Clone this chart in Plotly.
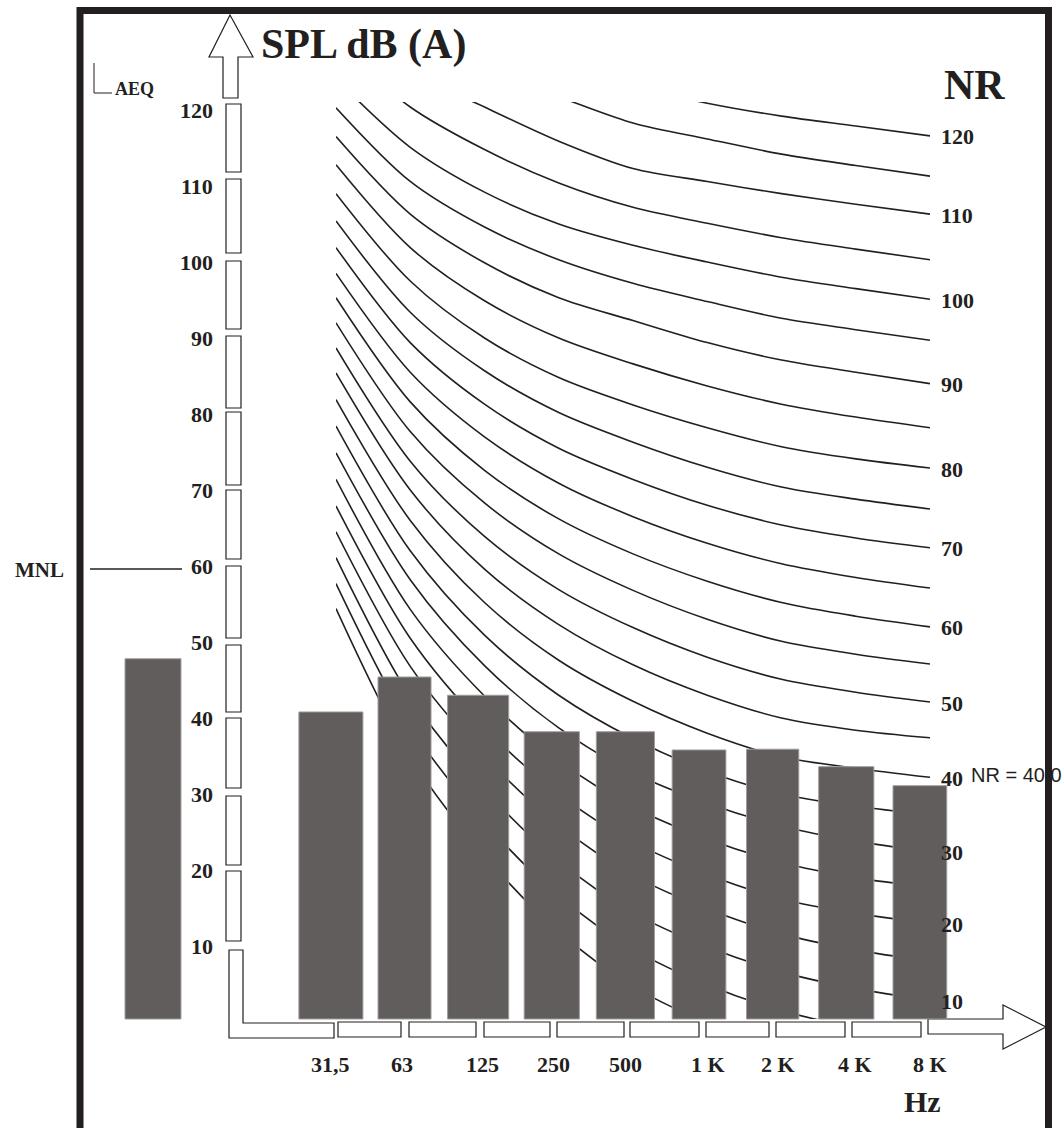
import plotly.graph_objects as go

# ---------------- data ----------------
BANDS = ["31,5", "63", "125", "250", "500", "1 K", "2 K", "4 K", "8 K"]
SPL_VALUES = [40.4, 45.0, 42.6, 37.8, 37.8, 35.4, 35.5, 33.2, 30.7]
AEQ_VALUE = 47.4
LEFT_TICKS = [120, 110, 100, 90, 80, 70, 60, 50, 40, 30, 20, 10]
NR_LABELS = [120, 110, 100, 90, 80, 70, 60, 50, 40, 30, 20, 10]
NR_LEVELS = [0, 5, 10, 15, 20, 25, 30, 35, 40, 45, 50, 55, 60,
             65, 70, 75, 80, 85, 90, 95, 100, 105, 110, 115, 120]
NR_00 = [54.0, 34.5, 21.5, 11.5, 4.3, -0.5, -4.0, -6.1, -7.5]
NR_05 = [57.3, 38.5, 25.9, 16.2, 9.2, 4.5, 1.1, -1.1, -2.5]
NR_10 = [60.7, 42.4, 30.2, 20.8, 14.0, 9.5, 6.2, 4.0, 2.5]
NR_15 = [64.1, 46.4, 34.6, 25.5, 18.9, 14.5, 11.2, 9.1, 7.6]
NR_20 = [67.5, 50.1, 38.4, 29.6, 23.3, 19.0, 15.8, 13.9, 12.6]
NR_25 = [71.0, 53.9, 42.5, 34.0, 27.9, 23.7, 20.6, 18.6, 17.3]
NR_30 = [74.5, 57.8, 46.5, 38.3, 32.4, 28.4, 25.4, 23.4, 22.0]
NR_35 = [78.0, 61.6, 50.5, 42.6, 36.9, 32.6, 29.6, 28.0, 26.9]
NR_40 = [81.5, 65.6, 54.8, 47.2, 41.8, 37.6, 34.5, 33.0, 31.8]
NR_45 = [85.0, 69.6, 59.2, 51.9, 46.6, 42.6, 39.6, 38.0, 37.0]
NR_50 = [88.3, 73.4, 63.5, 56.5, 51.5, 47.6, 44.7, 43.0, 41.7]
NR_55 = [91.6, 77.3, 67.9, 61.2, 56.4, 52.6, 49.7, 48.0, 46.7]
NR_60 = [94.9, 81.2, 72.2, 65.8, 61.2, 57.6, 54.8, 53.0, 51.6]
NR_65 = [98.1, 85.1, 76.6, 70.5, 66.1, 62.6, 59.9, 58.1, 56.7]
NR_70 = [101.5, 89.0, 80.9, 75.1, 71.0, 67.6, 65.0, 63.3, 62.0]
NR_75 = [105.0, 93.0, 85.3, 79.8, 75.9, 72.6, 70.0, 68.4, 67.1]
NR_80 = [108.6, 97.1, 89.6, 84.4, 80.8, 77.8, 75.3, 73.7, 72.5]
NR_85 = [112.4, 101.5, 94.5, 89.6, 86.2, 83.3, 80.9, 79.2, 77.8]
NR_90 = [116.1, 105.9, 99.5, 94.9, 91.9, 89.0, 86.7, 85.1, 83.6]
NR_95 = [119.9, 110.2, 104.2, 99.9, 96.8, 94.4, 92.2, 90.7, 89.3]
NR_100 = [123.7, 114.7, 108.8, 104.6, 101.8, 99.6, 97.6, 96.1, 94.7]
NR_105 = [128.4, 120.0, 114.4, 110.0, 106.8, 104.7, 102.8, 101.3, 99.9]
NR_110 = [132.3, 124.7, 120.0, 115.5, 111.9, 110.2, 108.6, 107.2, 105.9]
NR_115 = [135.7, 128.4, 124.3, 121.3, 117.9, 115.8, 113.8, 112.3, 110.9]
NR_120 = [139.1, 132.3, 128.4, 125.6, 122.7, 120.5, 118.8, 117.5, 116.2]
NR_CURVES = [NR_00, NR_05, NR_10, NR_15, NR_20, NR_25, NR_30, NR_35, NR_40,
             NR_45, NR_50, NR_55, NR_60, NR_65, NR_70, NR_75, NR_80, NR_85,
             NR_90, NR_95, NR_100, NR_105, NR_110, NR_115, NR_120]

# ---------------- layout constants / styles ----------------
W, H = 1063, 1128
ZERO_Y = 1019.0        # pixel row of 0 dB
PX_PER_DB = 7.6
X0_PX, PX_PER_BAND = 330.9, 73.625
CURVE_LEFT, CURVE_RIGHT, CURVE_TOP = 336, 930, 102
AEQ_X = (153 - X0_PX) / PX_PER_BAND
BAR_WIDTHS = [0.87, 0.72, 0.83, 0.75, 0.79, 0.73, 0.71, 0.75, 0.73]
AEQ_WIDTH = 0.76
LABEL_XSHIFT = [0, -3, 4, 2, 0, 9, 5, 9, 10]

INK = "#231f20"
BAR_FILL = "#615d5c"
BAR_EDGE = "#a19d9c"
SERIF = "Liberation Serif, Times New Roman, serif"
SANS = "Liberation Sans, Arial, sans-serif"
NUM_SIZE = 22

band_pos = list(range(len(BANDS)))

fig = go.Figure()

# text that is partly hidden by the frame (pixel canvas subplot xy)
fig.add_trace(go.Scatter(
    x=[971], y=[777], mode="text", text=["NR = 40.0"], textposition="middle right",
    textfont=dict(family=SANS, size=20, color=INK), cliponaxis=False,
    xaxis="x", yaxis="y", hoverinfo="skip", showlegend=False))

# NR curves (subplot x2y2, clipped to its domain)
for lvl, vals in zip(NR_LEVELS, NR_CURVES):
    fig.add_trace(go.Scatter(
        x=band_pos, y=vals, mode="lines", name=f"NR {lvl}",
        line=dict(color=INK, width=1.6, shape="spline", smoothing=0.9),
        xaxis="x2", yaxis="y2", hoverinfo="skip", showlegend=False))

# bars (subplot x3y3, on top of the curves)
fig.add_trace(go.Bar(
    x=band_pos, y=SPL_VALUES, width=BAR_WIDTHS,
    marker=dict(color=BAR_FILL, line=dict(color=BAR_EDGE, width=1)),
    xaxis="x3", yaxis="y3", hoverinfo="skip", showlegend=False))
fig.add_trace(go.Bar(
    x=[AEQ_X], y=[AEQ_VALUE], width=[AEQ_WIDTH],
    marker=dict(color=BAR_FILL, line=dict(color=BAR_EDGE, width=1)),
    xaxis="x3", yaxis="y3", hoverinfo="skip", showlegend=False))

hidden = dict(visible=False, showgrid=False, zeroline=False, fixedrange=True)
fig.update_layout(
    width=W, height=H, margin=dict(l=0, r=0, t=0, b=0),
    paper_bgcolor="white", plot_bgcolor="rgba(0,0,0,0)",
    barmode="overlay", showlegend=False,
    xaxis=dict(domain=[0, 1], range=[0, W], anchor="y", **hidden),
    yaxis=dict(domain=[0, 1], range=[H, 0], anchor="x", **hidden),
    xaxis2=dict(domain=[CURVE_LEFT / W, CURVE_RIGHT / W], range=[0, len(BANDS) - 1],
                anchor="y2", **hidden),
    yaxis2=dict(domain=[(H - ZERO_Y) / H, (H - CURVE_TOP) / H],
                range=[0, (ZERO_Y - CURVE_TOP) / PX_PER_DB], anchor="x2", **hidden),
    xaxis3=dict(domain=[0, 1], range=[-X0_PX / PX_PER_BAND, (W - X0_PX) / PX_PER_BAND],
                anchor="y3", **hidden),
    yaxis3=dict(domain=[0, 1], range=[(ZERO_Y - H) / PX_PER_DB, ZERO_Y / PX_PER_DB],
                anchor="x3", **hidden),
)

# ---------------- decorations (pixel canvas) ----------------
shapes = []
def rect(x0, y0, x1, y1, lw=1.2):
    shapes.append(dict(type="rect", xref="x", yref="y", x0=x0, y0=y0, x1=x1, y1=y1,
                       line=dict(color=INK, width=lw), fillcolor="white", layer="below"))

def path(p, lw=1.2, fill="white"):
    shapes.append(dict(type="path", xref="x", yref="y", path=p,
                       line=dict(color=INK, width=lw), fillcolor=fill, layer="below"))

def seg(x0, y0, x1, y1, lw=1.2):
    shapes.append(dict(type="line", xref="x", yref="y", x0=x0, y0=y0, x1=x1, y1=y1,
                       line=dict(color=INK, width=lw), layer="below"))

# vertical axis arrow
path("M 223,98 L 223,57 L 209,57 L 230,15 L 253,57 L 238,57 L 238,98 Z")
# vertical scale segments
for y0, y1 in [(104, 172), (179, 253), (261, 329), (336, 408), (412, 485), (490, 559),
               (566, 638), (645, 712), (718, 788), (796, 865), (871, 941)]:
    rect(226, y0, 241, y1)
# corner piece
path("M 229,950 L 243,950 L 243,1023 L 334,1023 L 334,1038 L 229,1038 Z")
# horizontal scale segments
for x0, x1 in [(338, 401), (409, 476), (484, 550), (557, 624), (630, 699),
               (706, 769), (776, 845), (852, 921)]:
    rect(x0, 1022, x1, 1037)
# horizontal axis arrow
path("M 928,1019 L 1003,1019 L 1003,1005 L 1046,1027 L 1003,1049 L 1003,1034 L 928,1034 Z")
# MNL line and AEQ bracket
seg(90, 569, 182, 569, 1.3)
path("M 94,63 L 94,93 L 112,93", 1.0, fill="rgba(0,0,0,0)")
# outer frame (drawn above everything)
shapes.append(dict(type="rect", xref="x", yref="y", x0=80, y0=10.5, x1=1048.5, y1=1145,
                   line=dict(color=INK, width=7), fillcolor="rgba(0,0,0,0)", layer="above"))
fig.update_layout(shapes=shapes)

# ---------------- text ----------------
ann = []
def txt(x, y, s, size, xanchor="center", xref="x", yref="y", family=SERIF, bold=True,
        xshift=0, yshift=0):
    ann.append(dict(x=x, y=y, xref=xref, yref=yref, text=f"<b>{s}</b>" if bold else s,
                    showarrow=False, xanchor=xanchor, yanchor="middle",
                    xshift=xshift, yshift=yshift,
                    font=dict(family=family, size=size, color=INK)))

for v in LEFT_TICKS:
    txt(215, v, str(v), NUM_SIZE, xanchor="right", yref="y3", yshift=-3)
for n in NR_LABELS:
    end_val = NR_CURVES[NR_LEVELS.index(n)][-1]
    txt(939, end_val, str(n), NUM_SIZE, xanchor="left", yref="y2", yshift=-1)
for i, lab in enumerate(BANDS):
    txt(i, 1064, lab, NUM_SIZE, xref="x3", xshift=LABEL_XSHIFT[i])

txt(363, 44, "SPL dB (A)", 42)
txt(974, 85, "NR", 42)
txt(922, 1101, "Hz", 30)
txt(113, 89, "AEQ", 18, xanchor="left")
txt(39, 570, "MNL", 21)
fig.update_layout(annotations=ann)

fig.write_html("out.html", config={"displayModeBar": False, "staticPlot": True},
               post_script="document.body.style.margin='0px';document.body.style.overflow='hidden';")
